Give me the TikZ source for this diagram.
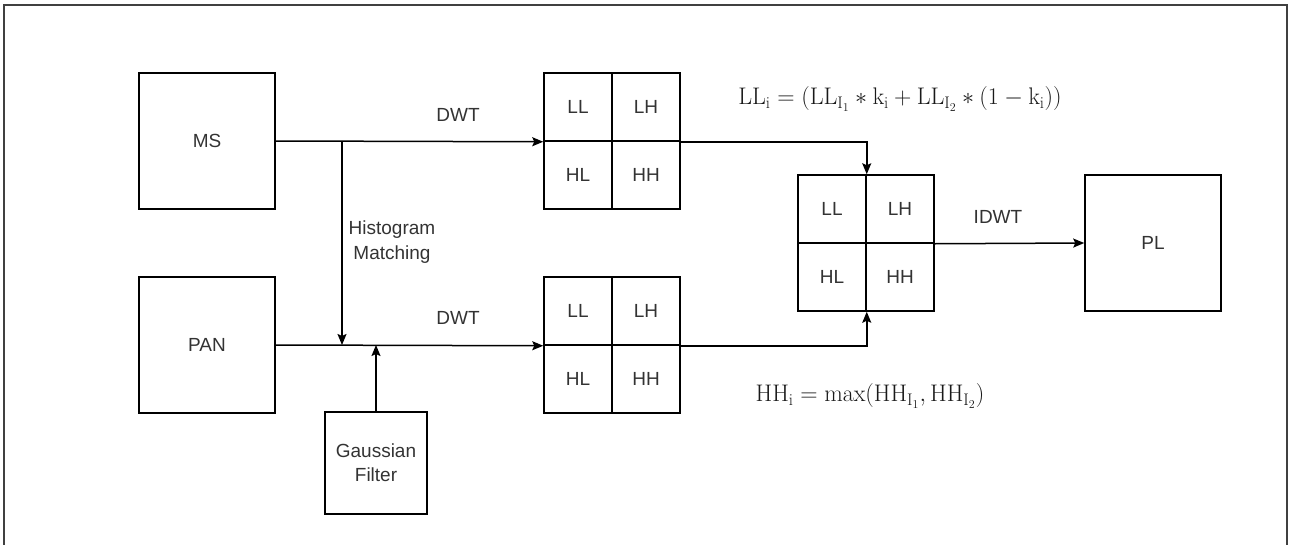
\RequirePackage{fix-cm}
\documentclass[tikz,border=0pt]{standalone}
\usepackage{fontspec}
\newfontfamily\labelfont{Liberation Sans}
\usetikzlibrary{arrows.meta}
\definecolor{txtgray}{HTML}{333333}
\tikzset{
	block/.style = {draw, line width=1.5pt, minimum width=136pt, minimum height=136pt, inner sep=0pt, text=txtgray},
	cell/.style = {draw, line width=1.5pt, minimum size=68pt, inner sep=0pt, text=txtgray},
	flow/.style = {line width=1.5pt, -{Stealth[length=11pt,width=9pt,inset=2pt]}},
	lbl/.style = {text=txtgray, align=center},
	rule/.style = {text=black!90, font=\fontsize{24}{28}\selectfont}
}
\begin{document}
\begin{tikzpicture}[x=1pt, y=-1pt, font=\labelfont\fontsize{19}{24}\selectfont]
	\useasboundingbox (0,0) rectangle (1291,544);
	% frame
	\draw [line width=1.5pt, black!75] (4,546) -- (4,5) -- (1287,5) -- (1287,546);
	% inputs
	\node [block] (ms) at (207,141) {MS};
	\node [block] (pan) at (207,345) {PAN};
	\node [draw, line width=1.5pt, minimum width=102pt, minimum height=102pt, inner sep=0pt, lbl] (gf) at (376,463) {Gaussian\\Filter};
	% DWT of MS
	\node [cell] (tLL) at (578,107) {LL};
	\node [cell] (tLH) at (646,107) {LH};
	\node [cell] (tHL) at (578,175) {HL};
	\node [cell] (tHH) at (646,175) {HH};
	% DWT of PAN
	\node [cell] (bLL) at (578,311) {LL};
	\node [cell] (bLH) at (646,311) {LH};
	\node [cell] (bHL) at (578,379) {HL};
	\node [cell] (bHH) at (646,379) {HH};
	% fused
	\node [cell] (fLL) at (832,209) {LL};
	\node [cell] (fLH) at (900,209) {LH};
	\node [cell] (fHL) at (832,277) {HL};
	\node [cell] (fHH) at (900,277) {HH};
	\node [block] (pl) at (1153,243) {PL};
	% connectors
	\coordinate (split) at (342,141);
	\coordinate (merge) at (342,345);
	\coordinate (blur) at (376,345);
	\draw [flow] (ms.east) -- (tLL.south west);
	\draw [flow] (pan.east) -- (bLL.south west);
	\draw [flow] (split) -- (merge);
	\draw [flow] (gf.north) -- (blur);
	\draw [flow] (tLH.south east) -| (fLL.north east);
	\draw [flow] (bLH.south east) -| (fHL.south east);
	\draw [flow] (fLH.south east) -- (pl.west);
	% labels
	\node [lbl] (dwt1) at (458,115) {DWT};
	\node [lbl] (dwt2) at (458,318) {DWT};
	\node [lbl] (idwt) at (998,217) {IDWT};
	\node [lbl, font=\labelfont\fontsize{19}{25}\selectfont] (hm) at (392,242) {Histogram\\Matching};
	\node [rule] (llrule) at (900,99) {$\mathrm{LL_i} = (\mathrm{LL_{I_1}} * \mathrm{k_i} + \mathrm{LL_{I_2}} * (1 - \mathrm{k_i}))$};
	\node [rule] (hhrule) at (870,396) {$\mathrm{HH_i} = \max\bigl(\mathrm{HH_{I_1}}, \mathrm{HH_{I_2}}\bigr)$};
\end{tikzpicture}
\end{document}
